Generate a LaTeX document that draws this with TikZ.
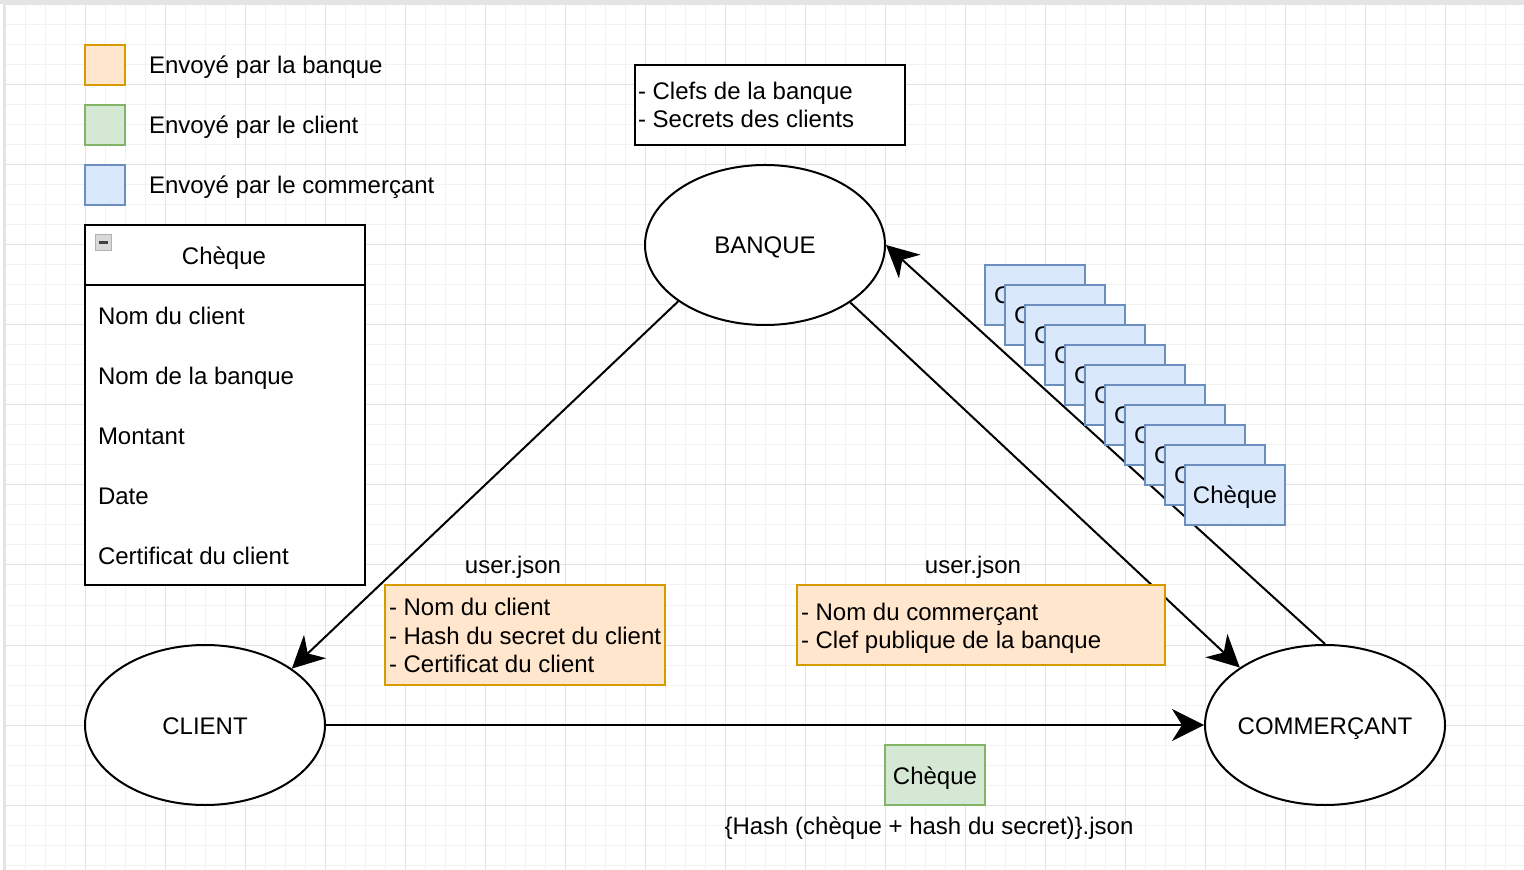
\documentclass[tikz,border=0pt]{standalone}
\usepackage{fontspec}
\setmainfont{Liberation Sans}
\usetikzlibrary{shapes.geometric,arrows.meta}
\definecolor{orfill}{HTML}{FFE6CC}
\definecolor{orline}{HTML}{D79B00}
\definecolor{grfill}{HTML}{D5E8D4}
\definecolor{grline}{HTML}{82B366}
\definecolor{blfill}{HTML}{DAE8FC}
\definecolor{blline}{HTML}{6C8EBF}
\definecolor{gridminor}{HTML}{F2F2F2}
\definecolor{gridmajor}{HTML}{E4E4E4}
\begin{document}
\begin{tikzpicture}[x=0.5pt,y=-0.5pt,
  font=\fontsize{12}{14}\selectfont, line width=1pt,
  entity/.style={ellipse, draw, fill=white, minimum width=120pt, minimum height=80pt, inner sep=0pt, text height=9pt, text depth=0pt},
  legendsq/.style={draw, minimum width=20pt, minimum height=20pt, inner sep=0pt},
  orbox/.style={draw=orline, fill=orfill, inner sep=0pt},
  grbox/.style={draw=grline, fill=grfill, minimum width=50pt, minimum height=30pt, inner sep=0pt, text height=9pt, text depth=0pt},
  blbox/.style={draw=blline, fill=blfill, minimum width=50pt, minimum height=30pt, inner sep=0pt},
  plainbox/.style={draw, fill=white, inner sep=0pt},
  txt/.style={inner sep=0pt, text height=9pt, text depth=0pt},
  flow/.style={-{Stealth[length=16pt, width=16pt, inset=5pt]}, line width=1pt},
  gridmin/.style={draw=gridminor, line width=0.5pt},
  gridmaj/.style={draw=gridmajor, line width=0.5pt}]
\useasboundingbox (0,0) rectangle (1524,870);
\fill[white] (0,0) rectangle (1524,870);
% grid
\foreach \x in {25,45,...,1524} \draw[gridmin] (\x,5) -- (\x,870);
\foreach \y in {25,45,...,870} \draw[gridmin] (5,\y) -- (1524,\y);
\foreach \x in {5,85,...,1524} \draw[gridmaj] (\x,5) -- (\x,870);
\foreach \y in {5,85,...,870} \draw[gridmaj] (5,\y) -- (1524,\y);
\fill[gridmajor] (0,0) rectangle (1524,4);
\draw[gridmajor, line width=1pt] (4,0) -- (4,870);

% legend
\node[legendsq, draw=orline, fill=orfill] (lgor) at (105,65) {};
\node[legendsq, draw=grline, fill=grfill] (lggr) at (105,125) {};
\node[legendsq, draw=blline, fill=blfill] (lgbl) at (105,185) {};
\node[txt, anchor=west] (lgort) at (148,65) {Envoyé par la banque};
\node[txt, anchor=west] (lggrt) at (148,125) {Envoyé par le client};
\node[txt, anchor=west] (lgblt) at (148,185) {Envoyé par le commerçant};

% table Chèque
\draw[fill=white] (85,225) rectangle (365,585);
\draw (85,285) -- (365,285);
\draw[fill=gray!30, draw=gray!60, line width=0.5pt] (95,235) rectangle (111,251);
\draw[black!75, line width=1.5pt] (98.5,243) -- (107.5,243);
\node[txt] (tabhead) at (224,256) {Chèque};
\node[txt, anchor=west] (row1) at (97,316) {Nom du client};
\node[txt, anchor=west] (row2) at (97,376) {Nom de la banque};
\node[txt, anchor=west] (row3) at (97,436) {Montant};
\node[txt, anchor=west] (row4) at (97,496) {Date};
\node[txt, anchor=west] (row5) at (97,556) {Certificat du client};

% bank secrets box
\node[plainbox, minimum width=135pt, minimum height=40pt] (secrets) at (770,105) {};
\node[txt, anchor=west] (sec1) at (637,91) {- Clefs de la banque};
\node[txt, anchor=west] (sec2) at (637,119) {- Secrets des clients};

% entities
\node[entity] (banque) at (765,245) {\makebox[0pt]{BANQUE}};
\node[entity] (client) at (205,725) {\makebox[0pt]{CLIENT}};
\node[entity] (comm) at (1325,725) {\makebox[0pt]{COMMERÇANT}};

% connectors
\draw[flow] (banque.213.8) -- (client.33.8);
\draw[flow] (banque.326.2) -- (comm.146.2);
\draw[flow] (comm.north) -- (banque.east);
\draw[flow] (client.east) -- (comm.west);

% user.json boxes
\node[txt] (uj1) at (513,565) {user.json};
\node[txt] (uj2) at (973,565) {user.json};
\node[orbox, minimum width=140pt, minimum height=50pt] (ubox1) at (525,635) {};
\node[txt, anchor=west] (u1l1) at (388,607) {- Nom du client};
\node[txt, anchor=west] (u1l2) at (388,635) {- Hash du secret du client};
\node[txt, anchor=west] (u1l3) at (388,663) {- Certificat du client};
\node[orbox, minimum width=184pt, minimum height=40pt] (ubox2) at (981,625) {};
\node[txt, anchor=west] (u2l1) at (800,611) {- Nom du commerçant};
\node[txt, anchor=west] (u2l2) at (800,639) {- Clef publique de la banque};

% stacked cheques (only the front one fully visible)
\foreach \k in {0,...,9} {
  \node[blbox] (chq\k) at ({1035+20*\k},{295+20*\k}) {};
  \node[txt, anchor=west] (chqc\k) at ({993+20*\k},{295+20*\k}) {C};
}
\node[blbox] (chq10) at (1235,495) {};
\node[txt] (chqt10) at (1235,495) {Chèque};

% client cheque
\node[grbox] (gchq) at (935,775) {Chèque};
\node[txt] (hashlbl) at (929,825) {\{Hash (chèque + hash du secret)\}.json};
\end{tikzpicture}
\end{document}
